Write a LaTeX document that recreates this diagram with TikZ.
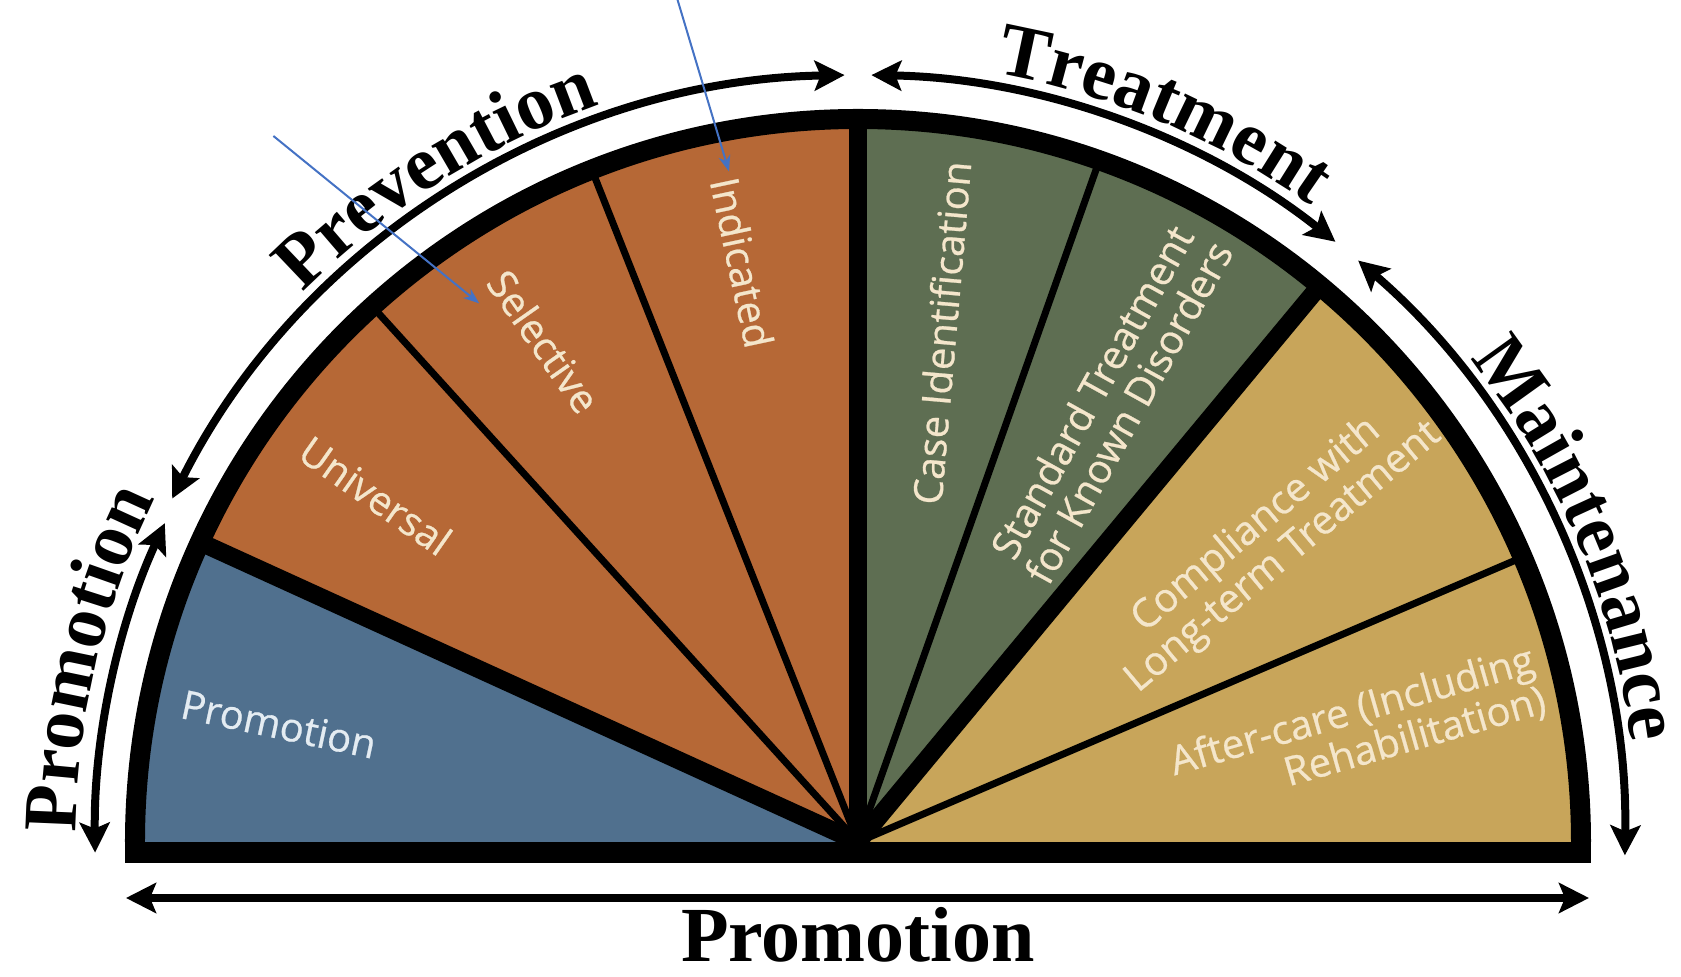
\documentclass[tikz,border=0pt]{standalone}
\usepackage{fontspec}
\setmainfont{Liberation Serif}
\newfontfamily\sectorfont[FakeBold=0.6]{Open Sans}
\usetikzlibrary{arrows.meta,decorations.text}

\definecolor{promoblue}{HTML}{50708E}
\definecolor{prevorange}{HTML}{B66836}
\definecolor{treatgreen}{HTML}{5E6E52}
\definecolor{maintgold}{HTML}{C8A55A}
\definecolor{labelcream}{HTML}{F4E6CB}
\definecolor{labelpale}{HTML}{E4ECF2}
\definecolor{noteblue}{HTML}{4472C4}

\begin{document}
\begin{tikzpicture}[x=0.5pt,y=0.5pt,
  bigarrow/.style={line width=4pt,{Stealth[length=15pt,width=15pt,inset=3pt]}-{Stealth[length=15pt,width=15pt,inset=3pt]}},
  arclabel/.style={decorate,decoration={text along path,text align=center,
    text={|\fontsize{38}{40}\selectfont\bfseries|#1}}},
  biglabel/.style={font=\fontsize{39}{44}\selectfont\bfseries,inner sep=0pt},
  inlabel/.style={font=\sectorfont\fontsize{20}{21}\selectfont,text=labelcream,align=center,inner sep=0pt},
  thinray/.style={line width=3.5pt},
  thickray/.style={line width=9pt},
  noteline/.style={noteblue,line width=1pt,-{Stealth[length=8pt,width=6pt]}}]

\useasboundingbox (-858,-135) rectangle (823,842);

\fill[promoblue] (0,0) -- (180:723) arc (180:155.5:723) -- cycle;
\fill[prevorange] (0,0) -- (155.5:723) arc (155.5:90:723) -- cycle;
\fill[treatgreen] (0,0) -- (90:723) arc (90:50.3:723) -- cycle;
\fill[maintgold] (0,0) -- (50.3:723) arc (50.3:0:723) -- cycle;

\draw[thickray] (0,0) -- (155.5:720);
\draw[thinray] (0,0) -- (132.2:720);
\draw[thinray] (0,0) -- (111.6:720);
\draw[thickray] (0,0) -- (90:720);
\draw[thinray] (0,0) -- (70.5:720);
\draw[thickray] (0,0) -- (50.3:720);
\draw[thinray] (0,0) -- (23.2:720);
\draw[line width=10pt] (180:723) arc (180:0:723);
\fill (-733,0) rectangle (733,-21);

\draw[bigarrow] (153.4:767) arc (153.4:91:767);
\draw[bigarrow] (89:767) arc (89:51.5:767);
\draw[bigarrow] (49.3:767) arc (49.3:-1:767);
\draw[bigarrow] (155.3:763) arc (155.3:180.8:763);
\draw[bigarrow] (-732,-56) -- (731,-56);

\path[arclabel=Prevention] (142.3:781) arc (142.3:102.3:781);
\path[arclabel=Treatment] (87.2:781) arc (87.2:47.2:781);
\path[arclabel=Maintenance] (42.8:780) arc (42.8:2.8:780);
\path[arclabel=Promotion] (186.6:782) arc (186.6:146.6:782);
\node[biglabel] (promobase) at (0,-93) {Promotion};

\node[inlabel,text=labelpale,rotate=-12] (promotion) at (168.5:591) {Promotion};
\node[inlabel,rotate=-35] (universal) at (144.3:594) {Universal};
\node[inlabel,rotate=-55] (selective) at (122.1:591) {Selective};
\node[inlabel,rotate=-78] (indicated) at (101.3:591) {Indicated};
\node[inlabel,rotate=85] (caseid) at (80.7:516) {Case Identification};
\node[inlabel,rotate=61] (standard) at (60.2:507) {Standard Treatment\\for Known Disorders};
\node[inlabel,rotate=40] (compliance) at (36.1:510) {Compliance with\\Long-term Treatment};
\node[inlabel,align=right,rotate=16] (aftercare) at (12.4:512) {After-care (Including\\Rehabilitation)};

\coordinate (selnote) at (-584.6,706);
\coordinate (seltip) at (-378.8,538.6);
\coordinate (indnote) at (-180.4,842);
\coordinate (indtip) at (-129,670.5);
\draw[noteline] (selnote) -- (seltip);
\draw[noteline] (indnote) -- (indtip);
\end{tikzpicture}
\end{document}
